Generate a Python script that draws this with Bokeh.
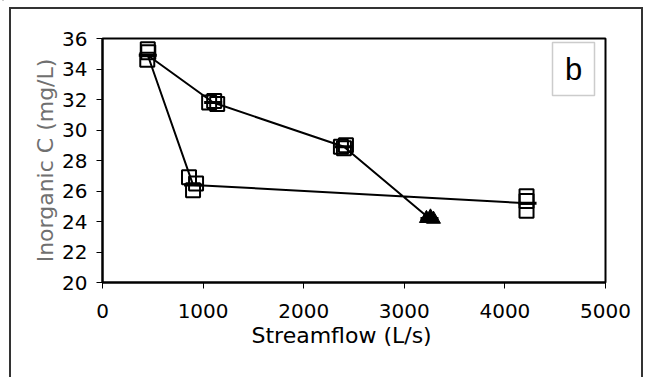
import math
from bokeh.plotting import figure
from bokeh.models import Range1d, Label, BoxAnnotation, FixedTicker, Title, InlineStyleSheet
from bokeh.embed import file_html
from bokeh.resources import INLINE

# Mean inorganic C along the hysteresis path (streamflow L/s, mg/L)
mean_flow = [4225, 900, 450, 1100, 2400, 3250]
mean_c = [25.2, 26.4, 34.9, 31.8, 28.9, 24.2]

# Individual samples (open squares)
sq_flow = [450, 455, 445, 1060, 1110, 1140, 2370, 2400, 2420, 860, 930, 900, 4215, 4215, 4215]
sq_c = [35.3, 35.1, 34.6, 31.8, 31.9, 31.7, 28.9, 28.8, 29.0, 26.9, 26.5, 26.05, 25.65, 25.35, 24.7]

# Individual samples (filled triangles)
tri_flow = [3220, 3260, 3290]
tri_c = [24.2, 24.3, 24.15]

x_ticks = [0, 1000, 2000, 3000, 4000, 5000]
y_ticks = [20, 22, 24, 26, 28, 30, 32, 34, 36]

FONT = "DejaVu Sans"

p = figure(width=650, height=377, output_backend="svg", toolbar_location=None,
           x_range=Range1d(0, 5000), y_range=Range1d(20, 36),
           min_border_left=102, min_border_right=45, min_border_top=38, min_border_bottom=95)
p.background_fill_color = "white"
p.border_fill_color = "white"
p.outline_line_color = "black"
p.outline_line_width = 2
p.xgrid.visible = False
p.ygrid.visible = False

p.xaxis.ticker = FixedTicker(ticks=x_ticks)
p.yaxis.ticker = FixedTicker(ticks=y_ticks)
for ax in (p.xaxis[0], p.yaxis[0]):
    ax.axis_line_color = "black"
    ax.axis_line_width = 2
    ax.major_tick_line_color = "black"
    ax.major_tick_line_width = 1
    ax.major_tick_in = 0
    ax.major_tick_out = 6
    ax.minor_tick_line_color = None
    ax.major_label_text_font = FONT
    ax.major_label_text_font_size = "20px"
    ax.major_label_text_color = "black"
p.xaxis.major_label_standoff = 15
p.yaxis.major_label_standoff = 9

# axis titles
p.add_layout(Title(text="Streamflow (L/s)", align="left", offset=149, standoff=0,
                   text_font=FONT, text_font_size="22px", text_font_style="normal",
                   text_color="black"), "below")
p.add_layout(Title(text="Inorganic C (mg/L)", align="center", offset=15, standoff=4,
                   text_font=FONT, text_font_size="22px", text_font_style="normal",
                   text_color="#707070"), "left")

p.line(mean_flow, mean_c, line_color="black", line_width=2)
p.scatter(sq_flow, sq_c, marker="square", size=14, fill_color=None,
          line_color="black", line_width=2)
p.scatter(tri_flow, tri_c, marker="triangle", size=14, fill_color="black",
          line_color="black", line_width=1)
p.scatter(mean_flow, mean_c, marker="dash", size=18, line_color="black", line_width=3)

# panel letter box
p.add_layout(BoxAnnotation(left=450, right=492, top=240, bottom=187,
                           left_units="screen", right_units="screen",
                           top_units="screen", bottom_units="screen",
                           fill_color="white", fill_alpha=1,
                           line_color="#555555", line_width=1.5))
p.add_layout(Label(x=471, y=213, x_units="screen", y_units="screen", text="b",
                   text_align="center", text_baseline="middle",
                   text_font="Liberation Sans", text_font_size="31px", text_color="black"))

# outer frame of the page (drawn with CSS on the plot host)
p.stylesheets = [InlineStyleSheet(css="""
:host::after { content: ''; position: absolute; left: 9px; top: 7px; width: 634px; height: 420px;
  border: 2px solid #333; box-sizing: border-box; pointer-events: none; }
:host::before { content: ''; position: absolute; left: 2px; top: 0px; width: 0px; height: 377px;
  border-left: 2px solid #bbb; pointer-events: none; }
""")]

open("out.html", "w").write(file_html(p, INLINE))
